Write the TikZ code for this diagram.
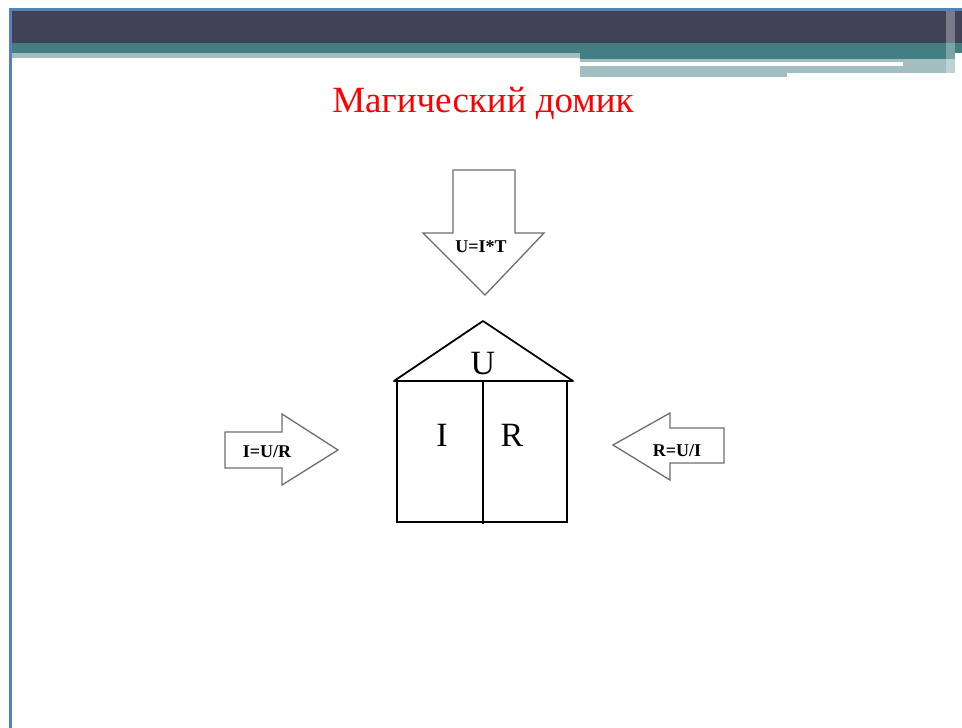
\documentclass[tikz,border=0pt]{standalone}
\usepackage{fontspec}
\setmainfont{Liberation Serif}
\definecolor{border}{RGB}{84,130,190}
\definecolor{darkband}{RGB}{65,66,86}
\definecolor{tealband}{RGB}{67,126,130}
\definecolor{lightband}{RGB}{163,190,193}
\definecolor{arrowline}{RGB}{110,110,110}
\tikzset{
  blockarrow/.style={draw=arrowline, line width=1.3pt, fill=white, line join=miter},
  house/.style={draw=black, line width=1.8pt},
  arrowlabel/.style={font=\bfseries\fontsize{18}{20}\selectfont, inner sep=0pt},
  houselabel/.style={font=\fontsize{34}{36}\selectfont, inner sep=0pt},
}
\begin{document}
\begin{tikzpicture}[x=1pt,y=-1pt]
\useasboundingbox (0,0) rectangle (962,728);
\fill[white] (0,0) rectangle (962,728);
% header bands
\fill[darkband] (12,11) rectangle (962,43);
\fill[tealband] (12,43) rectangle (962,53);
\fill[tealband] (580,53) rectangle (955,59);
\fill[lightband] (12,53) rectangle (580,58);
\fill[lightband] (580,59) rectangle (955,73);
\fill[lightband] (580,73) rectangle (787,77);
\fill[white] (580,62) rectangle (903,66);
\fill[white, opacity=0.3] (946,11) rectangle (955,76);
% slide border
\fill[border] (9,8) rectangle (962,11);
\fill[border] (9,8) rectangle (12,728);
% title
\node[text=red, font=\fontsize{37}{40}\selectfont, inner sep=0pt] (title) at (483,103) {Магический домик};
% down arrow
\draw[blockarrow] (453,170) -- (515,170) -- (515,233) -- (544,233) -- (485,295) -- (423,233) -- (453,233) -- cycle;
\node[arrowlabel] (uit) at (481,247) {U=I*T};
% right arrow
\draw[blockarrow] (225,432) -- (282,432) -- (282,414) -- (338,450) -- (282,485) -- (282,468) -- (225,468) -- cycle;
\node[arrowlabel] (iur) at (267,452) {I=U/R};
% left arrow
\draw[blockarrow] (724,428) -- (670,428) -- (670,413) -- (613,445) -- (670,480) -- (670,463) -- (724,463) -- cycle;
\node[arrowlabel] (rui) at (677,451) {R=U/I};
% house
\coordinate (apex) at (483,321);
\coordinate (eaveL) at (394,381);
\coordinate (eaveR) at (573,381);
\draw[house, line join=round] (eaveL) -- (apex) -- (eaveR) -- cycle;
\draw[house] (397,381) rectangle (567,522);
\draw[house] (483,381) -- (483,524);
\node[houselabel] (u) at (483,364) {U};
\node[houselabel] (i) at (442,435) {I};
\node[houselabel] (r) at (512,435) {R};
\end{tikzpicture}
\end{document}
